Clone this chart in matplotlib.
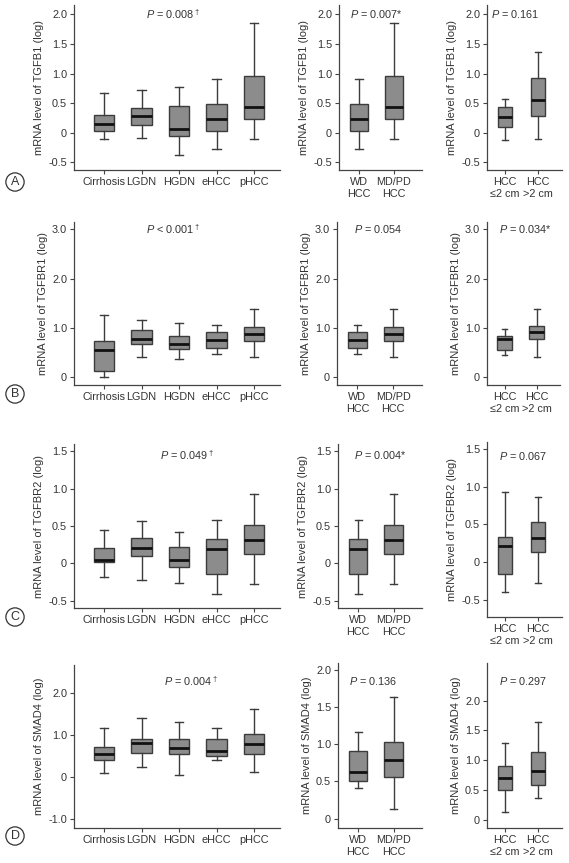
import matplotlib
matplotlib.use('Agg')
import matplotlib.pyplot as plt

plt.rcParams['font.family'] = ['Liberation Sans', 'DejaVu Sans']
plt.rcParams['mathtext.fontset'] = 'custom'
plt.rcParams['mathtext.it'] = 'Liberation Sans:italic'
plt.rcParams['mathtext.rm'] = 'Liberation Sans'

# categories
stage_groups = ['Cirrhosis', 'LGDN', 'HGDN', 'eHCC', 'pHCC']
grade_groups = ['WD\nHCC', 'MD/PD\nHCC']
size_groups = ['HCC\n\u22642 cm', 'HCC\n>2 cm']

# box values: [lower whisker, q1, median, q3, upper whisker]
tgfb1_stage = [[-0.11, 0.03, 0.15, 0.305, 0.667],
               [-0.09, 0.135, 0.28, 0.42, 0.72],
               [-0.37, -0.05, 0.055, 0.46, 0.77],
               [-0.28, 0.03, 0.235, 0.49, 0.915],
               [-0.11, 0.235, 0.435, 0.965, 1.86]]
tgfb1_grade = [tgfb1_stage[3], tgfb1_stage[4]]
tgfb1_size = [[-0.13, 0.10, 0.26, 0.44, 0.57],
              [-0.11, 0.29, 0.55, 0.92, 1.37]]

tgfbr1_stage = [[0.01, 0.12, 0.56, 0.74, 1.26],
                [0.42, 0.68, 0.78, 0.96, 1.16],
                [0.38, 0.57, 0.67, 0.83, 1.11],
                [0.47, 0.59, 0.755, 0.91, 1.06],
                [0.42, 0.735, 0.87, 1.03, 1.38]]
tgfbr1_grade = [tgfbr1_stage[3], tgfbr1_stage[4]]
tgfbr1_size = [[0.45, 0.56, 0.78, 0.84, 0.98],
               [0.41, 0.78, 0.91, 1.05, 1.38]]

tgfbr2_stage = [[-0.18, 0.015, 0.045, 0.21, 0.44],
                [-0.225, 0.095, 0.205, 0.34, 0.565],
                [-0.27, -0.045, 0.045, 0.215, 0.42],
                [-0.41, -0.14, 0.185, 0.33, 0.585],
                [-0.28, 0.12, 0.315, 0.52, 0.925]]
tgfbr2_grade = [tgfbr2_stage[3], tgfbr2_stage[4]]
tgfbr2_size = [[-0.40, -0.165, 0.21, 0.33, 0.925],
               [-0.275, 0.137, 0.32, 0.535, 0.855]]

smad4_stage = [[0.11, 0.40, 0.55, 0.71, 1.16],
               [0.24, 0.58, 0.81, 0.91, 1.41],
               [0.04, 0.55, 0.69, 0.905, 1.325],
               [0.41, 0.50, 0.63, 0.905, 1.17],
               [0.125, 0.555, 0.785, 1.03, 1.63]]
smad4_grade = [smad4_stage[3], smad4_stage[4]]
smad4_size = [[0.13, 0.49, 0.70, 0.90, 1.29],
              [0.37, 0.58, 0.82, 1.14, 1.64]]

W, H = 569, 863
fig = plt.figure(figsize=(W / 100, H / 100), dpi=100)


def rect(l, r, t, b):
    return [l / W, 1 - b / H, (r - l) / W, (b - t) / H]


def panel(pos, boxes, labels, ylab, yticks, ylim, xlim, width, ptext, pxy):
    ax = fig.add_axes(rect(*pos))
    stats = [dict(whislo=b[0], q1=b[1], med=b[2], q3=b[3], whishi=b[4], fliers=[])
             for b in boxes]
    ax.bxp(stats, positions=range(1, len(boxes) + 1), widths=width,
           capwidths=width * 0.4, patch_artist=True, showfliers=False,
           boxprops=dict(facecolor='#8c8c8c', edgecolor='#3c3c3c', linewidth=1.0),
           whiskerprops=dict(color='#3c3c3c', linewidth=1.0),
           capprops=dict(color='#3c3c3c', linewidth=1.0),
           medianprops=dict(color='#111111', linewidth=2.0))
    ax.set_xlim(*xlim)
    ax.set_ylim(*ylim)
    ax.set_xticks(range(1, len(boxes) + 1))
    ax.set_xticklabels(labels, fontsize=7.8, color='#333333')
    ax.set_yticks(yticks)
    ax.set_yticklabels(['0' if v == 0 else '%.1f' % v for v in yticks],
                       fontsize=7.8, color='#333333')
    ax.set_ylabel(ylab, fontsize=8.0, color='#333333', labelpad=3)
    for s in ['top', 'right']:
        ax.spines[s].set_visible(False)
    for s in ['left', 'bottom']:
        ax.spines[s].set_color('#444444')
        ax.spines[s].set_linewidth(0.9)
    ax.tick_params(length=3, width=0.8, color='#444444', pad=2)
    ax.text(pxy[0], pxy[1], ptext, transform=ax.transAxes, ha='center',
            va='center', fontsize=7.8, color='#333333')
    return ax


x5 = (0.2, 5.69)
x2m = (0.43, 2.8)
x2r = (0.45, 2.73)

# Row A: TGFB1
yA = [-0.5, 0, 0.5, 1.0, 1.5, 2.0]
panel((74, 280, 5, 170), tgfb1_stage, stage_groups, 'mRNA level of TGFB1 (log)',
      yA, (-0.63, 2.16), x5, 0.55, r'$P$ = 0.008$^\dagger$', (0.48, 0.945))
panel((339, 422, 5, 170), tgfb1_grade, grade_groups, 'mRNA level of TGFB1 (log)',
      yA, (-0.63, 2.16), x2m, 0.52, r'$P$ = 0.007*', (0.45, 0.945))
panel((487, 562, 5, 170), tgfb1_size, size_groups, 'mRNA level of TGFB1 (log)',
      yA, (-0.63, 2.16), x2r, 0.45, r'$P$ = 0.161', (0.37, 0.945))

# Row B: TGFBR1
yB = [0, 1.0, 2.0, 3.0]
panel((74, 280, 222, 385), tgfbr1_stage, stage_groups, 'mRNA level of TGFBR1 (log)',
      yB, (-0.155, 3.15), x5, 0.55, r'$P$ < 0.001$^\dagger$', (0.48, 0.957))
panel((337, 422, 222, 385), tgfbr1_grade, grade_groups, 'mRNA level of TGFBR1 (log)',
      yB, (-0.155, 3.15), x2m, 0.52, r'$P$ = 0.054', (0.48, 0.957))
panel((487, 560, 222, 385), tgfbr1_size, size_groups, 'mRNA level of TGFBR1 (log)',
      yB, (-0.155, 3.15), x2r, 0.45, r'$P$ = 0.034*', (0.52, 0.957))

# Row C: TGFBR2
yC = [-0.5, 0, 0.5, 1.0, 1.5]
panel((74, 280, 444, 608), tgfbr2_stage, stage_groups, 'mRNA level of TGFBR2 (log)',
      yC, (-0.6, 1.6), x5, 0.55, r'$P$ = 0.049$^\dagger$', (0.55, 0.933))
panel((338, 422, 444, 608), tgfbr2_grade, grade_groups, 'mRNA level of TGFBR2 (log)',
      yC, (-0.6, 1.6), x2m, 0.52, r'$P$ = 0.004*', (0.5, 0.933))
panel((487, 562, 442, 617), tgfbr2_size, size_groups, 'mRNA level of TGFBR2 (log)',
      yC, (-0.73, 1.59), x2r, 0.45, r'$P$ = 0.067', (0.48, 0.92))

# Row D: SMAD4
panel((74, 280, 665, 828), smad4_stage, stage_groups, 'mRNA level of SMAD4 (log)',
      [-1.0, 0, 1.0, 2.0], (-1.21, 2.67), x5, 0.55, r'$P$ = 0.004$^\dagger$', (0.57, 0.9))
panel((338, 422, 663, 828), smad4_grade, grade_groups, 'mRNA level of SMAD4 (log)',
      [0, 0.5, 1.0, 1.5, 2.0], (-0.125, 2.09), x2m, 0.52, r'$P$ = 0.136', (0.42, 0.89))
panel((487, 562, 663, 828), smad4_size, size_groups, 'mRNA level of SMAD4 (log)',
      [0, 0.5, 1.0, 1.5, 2.0], (-0.14, 2.63), x2r, 0.45, r'$P$ = 0.297', (0.48, 0.89))

# panel letters
for letter, yy in [('A', 182), ('B', 394), ('C', 617), ('D', 836)]:
    fig.text(15 / W, 1 - yy / H, letter, ha='center', va='center', fontsize=9,
             color='#333333',
             bbox=dict(boxstyle='circle,pad=0.25', fc='white', ec='#333333', lw=0.9))

fig.savefig('out.png', dpi=100)
